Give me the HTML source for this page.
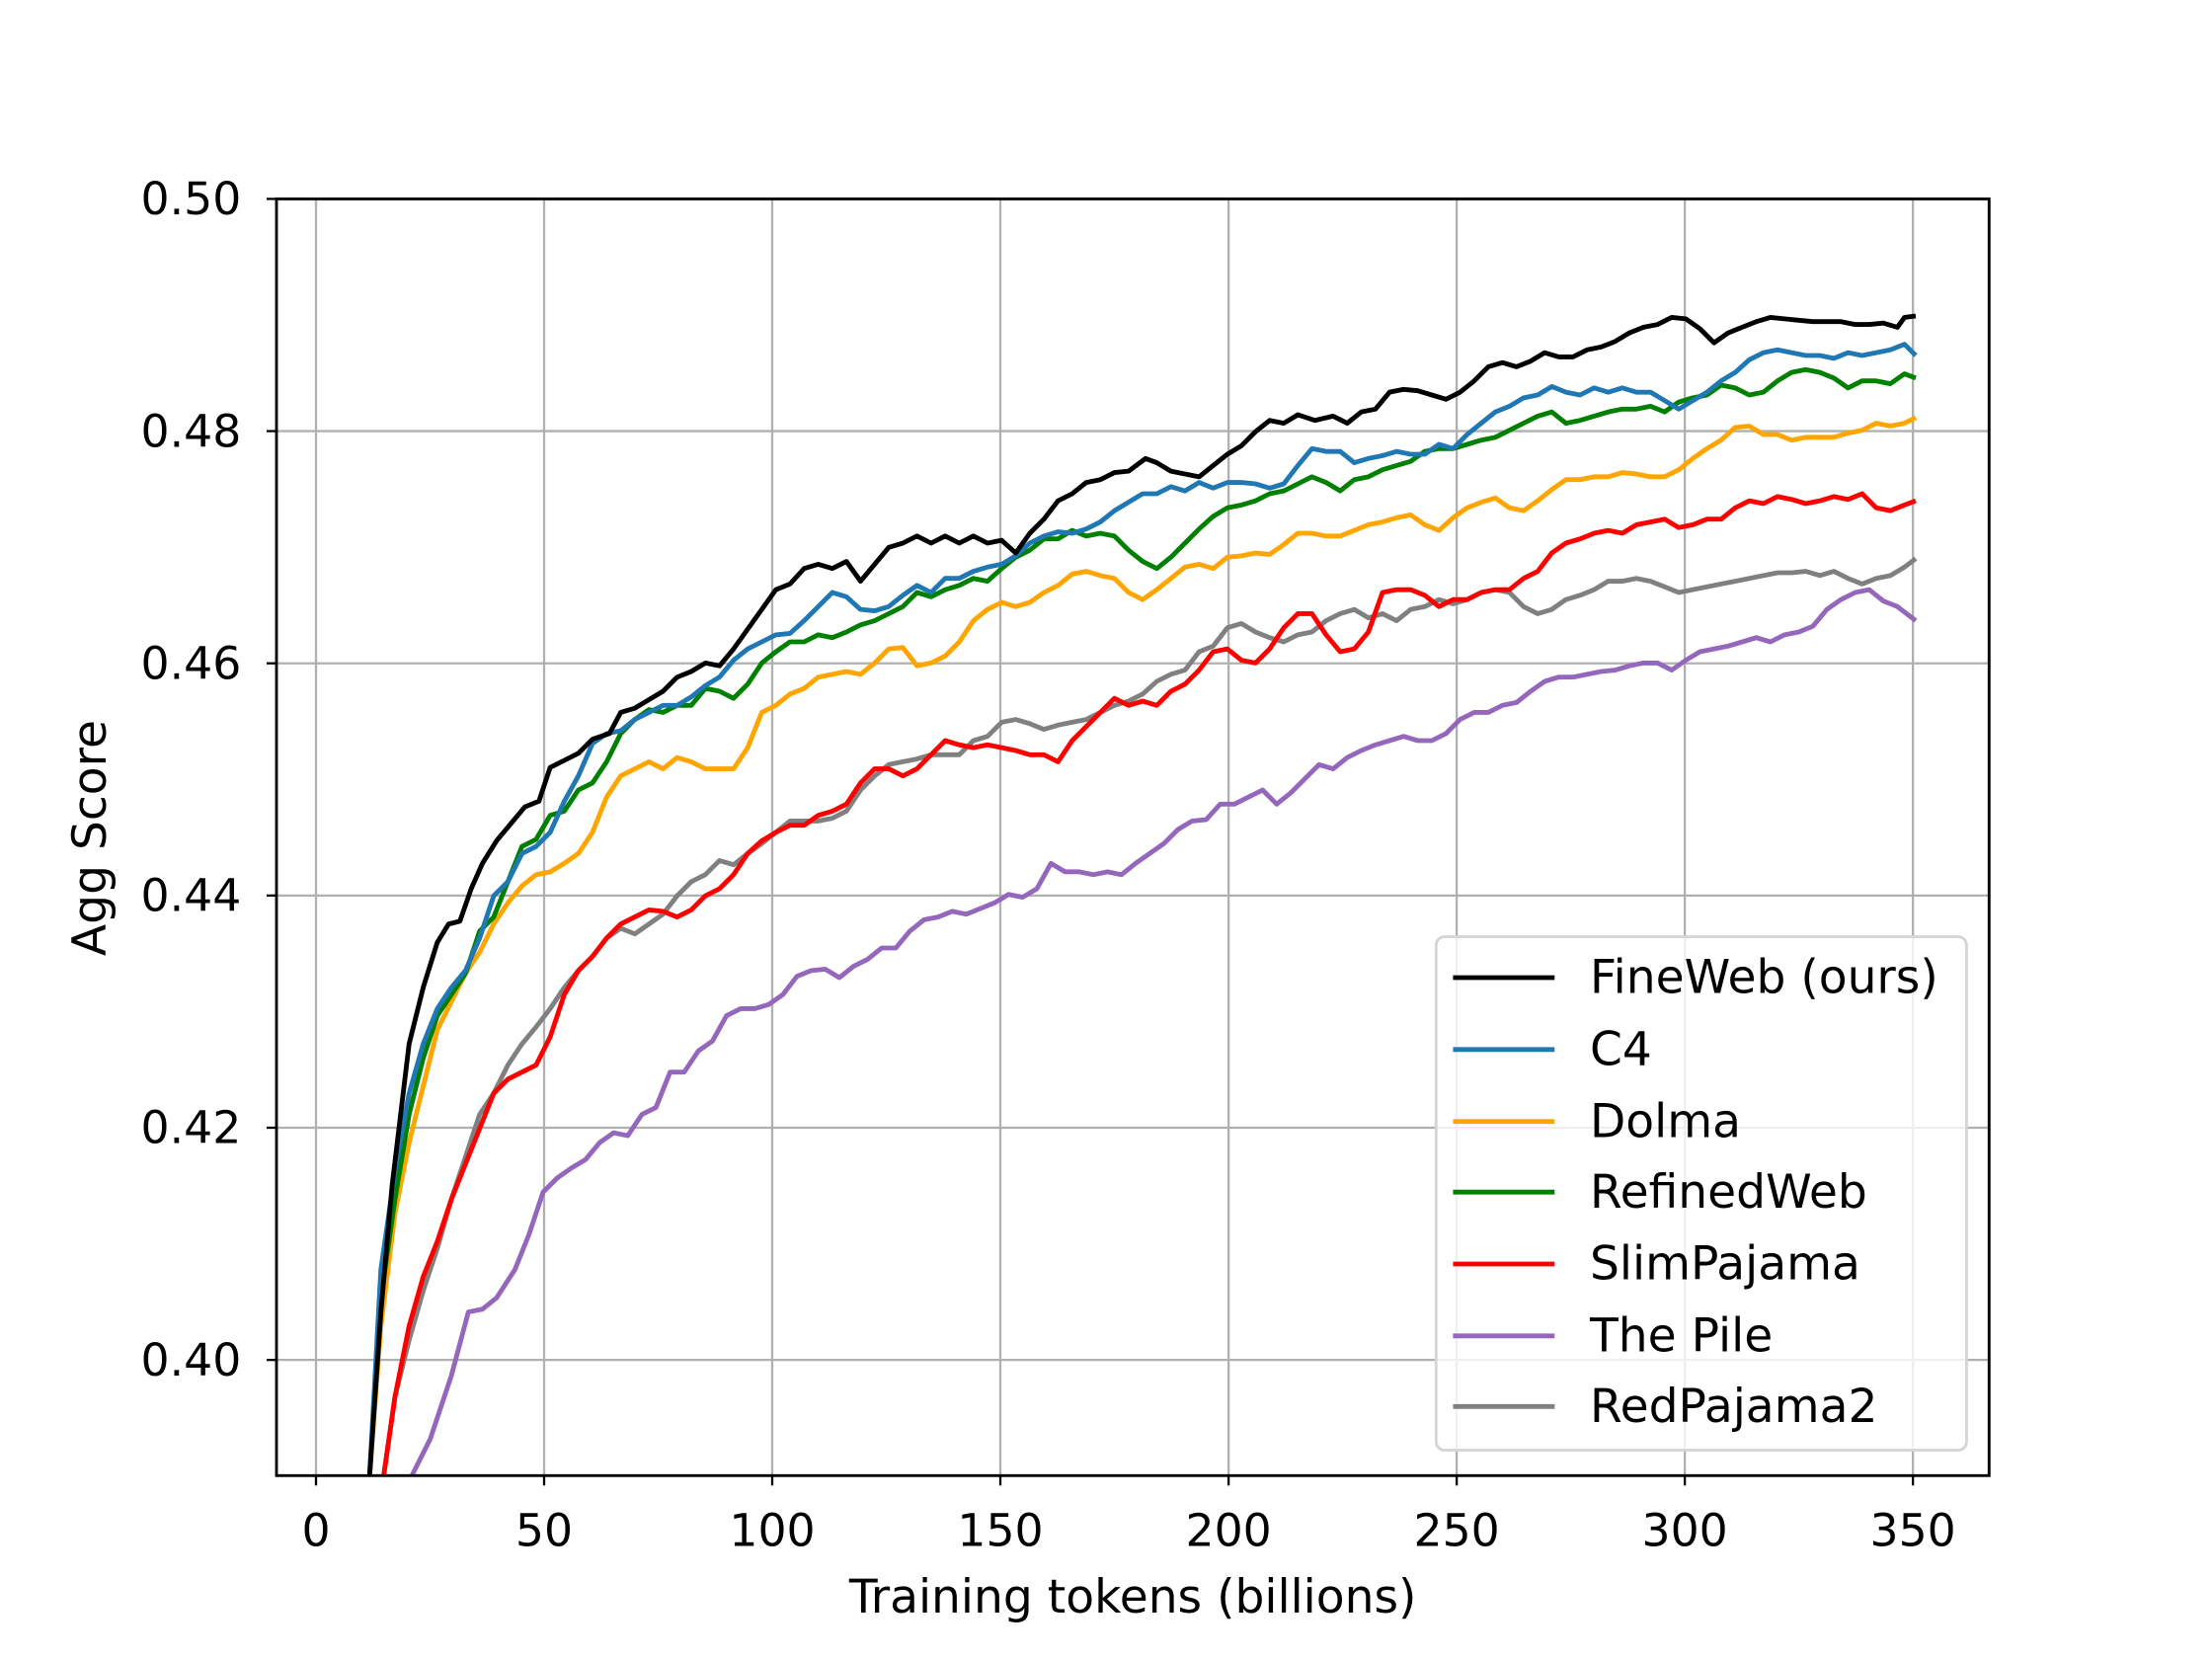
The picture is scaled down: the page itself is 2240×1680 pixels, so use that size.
<!DOCTYPE html>
<html><head><style>html,body{margin:0;padding:0;background:#fff}svg{display:block}</style></head><body>
<svg width="2240" height="1680" viewBox="0 0 1568 1176" xmlns="http://www.w3.org/2000/svg" font-family="DejaVu Sans, Liberation Sans, sans-serif">
<rect width="1568" height="1176" fill="#fff"/>
<defs><clipPath id="c"><rect x="196" y="141" width="1214" height="905"/></clipPath></defs>
<g stroke="#b0b0b0" stroke-width="1.6">
<line x1="224" y1="141" x2="224" y2="1046"/><line x1="385.7" y1="141" x2="385.7" y2="1046"/><line x1="547.4" y1="141" x2="547.4" y2="1046"/><line x1="709.1" y1="141" x2="709.1" y2="1046"/><line x1="870.9" y1="141" x2="870.9" y2="1046"/><line x1="1032.6" y1="141" x2="1032.6" y2="1046"/><line x1="1194.3" y1="141" x2="1194.3" y2="1046"/><line x1="1356" y1="141" x2="1356" y2="1046"/>
<line x1="196" y1="141" x2="1410" y2="141"/><line x1="196" y1="305.6" x2="1410" y2="305.6"/><line x1="196" y1="470.2" x2="1410" y2="470.2"/><line x1="196" y1="634.8" x2="1410" y2="634.8"/><line x1="196" y1="799.4" x2="1410" y2="799.4"/><line x1="196" y1="964" x2="1410" y2="964"/>
</g>
<g clip-path="url(#c)" fill="none" stroke-width="3.4" stroke-linejoin="round">
<polyline stroke="#9467bd" points="292,1046 305,1020 320,975 332,930 342,928 352,920 365,900 375,875 385,845 395,835 405,828 415,822 425,810 435,803 445,805 455,790 465,785 475,760 485,760 495,745 505,738 515,720 525,715 535,715 545,712 555,705 565,692 575,688 585,687 595,693 605,685 615,680 625,672 635,672 645,660 655,652 665,650 675,646 685,648 695,644 705,640 715,634 725,636 735,630 745,612 755,618 765,618 775,620 785,618 795,620 805,612 815,605 825,598 835,588 845,582 855,581 865,570 875,570 885,565 895,560 905,570 915,562 925,552 935,542 945,545 955,537 965,532 975,528 985,525 995,522 1005,525 1015,525 1025,520 1035,510 1045,505 1055,505 1065,500 1075,498 1085,490 1095,483 1105,480 1115,480 1125,478 1135,476 1145,475 1155,472 1165,470 1175,470 1185,475 1195,468 1205,462 1215,460 1225,458 1235,455 1245,452 1255,455 1265,450 1275,448 1285,444 1295,432 1305,425 1315,420 1325,418 1335,426 1345,430 1358,440"/>
<polyline stroke="#808080" points="272,1046 280,990 290,950 300,915 310,885 320,850 330,820 340,790 350,775 360,755 370,740 380,728 390,715 400,700 410,688 420,678 430,665 440,658 450,662 460,655 470,648 480,635 490,625 500,620 510,610 520,613 530,605 540,598 550,590 560,582 570,582 580,582 590,580 600,575 610,560 620,550 630,542 640,540 650,538 660,535 670,535 680,535 690,525 700,522 710,512 720,510 730,513 740,517 750,514 760,512 770,510 780,505 790,500 800,497 810,492 820,483 830,478 840,475 850,462 860,458 870,445 880,442 890,448 900,452 910,455 920,450 930,448 940,440 950,435 960,432 970,438 980,435 990,440 1000,432 1010,430 1020,425 1030,428 1040,425 1050,420 1060,418 1070,420 1080,430 1090,435 1100,432 1110,425 1120,422 1130,418 1140,412 1150,412 1160,410 1170,412 1180,416 1190,420 1200,418 1210,416 1220,414 1230,412 1240,410 1250,408 1260,406 1270,406 1280,405 1290,408 1300,405 1310,410 1320,414 1330,410 1340,408 1350,402 1358,396"/>
<polyline stroke="#ff0000" points="272,1046 280,990 290,940 300,905 310,880 320,850 330,825 340,800 350,775 360,765 370,760 380,755 390,735 400,705 410,688 420,678 430,665 440,655 450,650 460,645 470,646 480,650 490,645 500,635 510,630 520,620 530,605 540,596 550,590 560,585 570,585 580,578 590,575 600,570 610,555 620,545 630,545 640,550 650,545 660,535 670,525 680,528 690,530 700,528 710,530 720,532 730,535 740,535 750,540 760,525 770,515 780,505 790,495 800,500 810,497 820,500 830,490 840,485 850,475 860,462 870,460 880,468 890,470 900,460 910,445 920,435 930,435 940,450 950,462 960,460 970,448 980,420 990,418 1000,418 1010,422 1020,430 1030,425 1040,425 1050,420 1060,418 1070,418 1080,410 1090,405 1100,392 1110,385 1120,382 1130,378 1140,376 1150,378 1160,372 1170,370 1180,368 1190,374 1200,372 1210,368 1220,368 1230,360 1240,355 1250,357 1260,352 1270,354 1280,357 1290,355 1300,352 1310,354 1320,350 1330,360 1340,362 1350,358 1358,355"/>
<polyline stroke="#ffa500" points="262,1046 270,940 280,860 290,810 300,770 310,730 320,710 330,690 340,675 350,655 360,640 370,628 380,620 390,618 400,612 410,605 420,590 430,565 440,550 450,545 460,540 470,545 480,537 490,540 500,545 510,545 520,545 530,530 540,505 550,500 560,492 570,488 580,480 590,478 600,476 610,478 620,470 630,460 640,459 650,472 660,470 670,465 680,455 690,440 700,432 710,427 720,430 730,427 740,420 750,415 760,407 770,405 780,408 790,410 800,420 810,425 820,418 830,410 840,402 850,400 860,403 870,395 880,394 890,392 900,393 910,386 920,378 930,378 940,380 950,380 960,376 970,372 980,370 990,367 1000,365 1010,372 1020,376 1030,367 1040,360 1050,356 1060,353 1070,360 1080,362 1090,355 1100,347 1110,340 1120,340 1130,338 1140,338 1150,335 1160,336 1170,338 1180,338 1190,333 1200,325 1210,318 1220,312 1230,303 1240,302 1250,308 1260,308 1270,312 1280,310 1290,310 1300,310 1310,307 1320,305 1330,300 1340,302 1350,300 1358,296"/>
<polyline stroke="#008000" points="262,1046 270,920 280,850 290,790 300,750 310,720 320,705 330,690 340,660 350,650 360,625 370,600 380,595 390,578 400,575 410,560 420,555 430,540 440,520 450,510 460,503 470,505 480,500 490,500 500,488 510,490 520,495 530,485 540,470 550,462 560,455 570,455 580,450 590,452 600,448 610,443 620,440 630,435 640,430 650,420 660,423 670,418 680,415 690,410 700,412 710,403 720,395 730,390 740,382 750,382 760,376 770,380 780,378 790,380 800,390 810,398 820,403 830,395 840,385 850,375 860,366 870,360 880,358 890,355 900,350 910,348 920,343 930,338 940,342 950,348 960,340 970,338 980,333 990,330 1000,327 1010,320 1020,318 1030,318 1040,315 1050,312 1060,310 1070,305 1080,300 1090,295 1100,292 1110,300 1120,298 1130,295 1140,292 1150,290 1160,290 1170,288 1180,292 1190,285 1200,282 1210,280 1220,273 1230,275 1240,280 1250,278 1260,270 1270,264 1280,262 1290,264 1300,268 1310,275 1320,270 1330,270 1340,272 1350,265 1358,268"/>
<polyline stroke="#1f77b4" points="262,1046 270,900 280,830 290,775 300,740 310,715 320,700 330,688 340,665 350,635 360,625 370,605 380,600 390,590 400,568 410,550 420,527 430,520 440,518 450,510 460,505 470,500 480,500 490,494 500,486 510,480 520,468 530,460 540,455 550,450 560,449 570,440 580,430 590,420 600,423 610,432 620,433 630,430 640,422 650,415 660,420 670,410 680,410 690,405 700,402 710,400 720,394 730,385 740,380 750,377 760,378 770,375 780,370 790,362 800,356 810,350 820,350 830,345 840,348 850,342 860,346 870,342 880,342 890,343 900,346 910,343 920,330 930,318 940,320 950,320 960,328 970,325 980,323 990,320 1000,322 1010,322 1020,315 1030,318 1040,308 1050,300 1060,292 1070,288 1080,282 1090,280 1100,274 1110,278 1120,280 1130,275 1140,278 1150,275 1160,278 1170,278 1180,284 1190,290 1200,284 1210,278 1220,270 1230,264 1240,255 1250,250 1260,248 1270,250 1280,252 1290,252 1300,254 1310,250 1320,252 1330,250 1340,248 1350,244 1358,252"/>
<polyline stroke="#000" points="262,1046 270,930 278,840 290,740 300,700 310,668 318,655 326,653 334,630 342,612 352,596 362,584 372,572 382,568 390,544 400,539 410,534 420,524 432,520 440,505 450,502 460,496 470,490 480,480 490,476 500,470 510,472 520,460 530,446 540,432 550,418 560,414 570,403 580,400 590,403 600,398 610,412 620,400 630,388 640,385 650,380 660,385 670,380 680,385 690,380 700,385 710,383 720,392 730,378 740,368 750,355 760,350 770,342 780,340 790,335 800,334 812,325 820,328 830,334 850,338 860,330 870,322 880,316 890,306 900,298 910,300 920,294 932,298 945,295 955,300 965,292 975,290 985,278 995,276 1005,277 1015,280 1025,283 1035,278 1045,270 1055,260 1065,257 1075,260 1085,256 1095,250 1105,253 1115,253 1125,248 1135,246 1145,242 1155,236 1165,232 1175,230 1185,225 1195,226 1205,233 1215,243 1225,236 1235,232 1245,228 1255,225 1265,226 1275,227 1285,228 1295,228 1305,228 1315,230 1325,230 1335,229 1345,232 1350,225 1358,224"/>
</g>
<rect x="196" y="141" width="1214" height="905" fill="none" stroke="#000" stroke-width="2"/>
<g stroke="#000" stroke-width="1.6">
<line x1="224" y1="1046" x2="224" y2="1053"/><line x1="385.7" y1="1046" x2="385.7" y2="1053"/><line x1="547.4" y1="1046" x2="547.4" y2="1053"/><line x1="709.1" y1="1046" x2="709.1" y2="1053"/><line x1="870.9" y1="1046" x2="870.9" y2="1053"/><line x1="1032.6" y1="1046" x2="1032.6" y2="1053"/><line x1="1194.3" y1="1046" x2="1194.3" y2="1053"/><line x1="1356" y1="1046" x2="1356" y2="1053"/>
<line x1="189" y1="141" x2="196" y2="141"/><line x1="189" y1="305.6" x2="196" y2="305.6"/><line x1="189" y1="470.2" x2="196" y2="470.2"/><line x1="189" y1="634.8" x2="196" y2="634.8"/><line x1="189" y1="799.4" x2="196" y2="799.4"/><line x1="189" y1="964" x2="196" y2="964"/>
</g>
<g font-size="32" fill="#000" text-anchor="middle">
<text x="224" y="1096">0</text><text x="385.7" y="1096">50</text><text x="547.4" y="1096">100</text><text x="709.1" y="1096">150</text><text x="870.9" y="1096">200</text><text x="1032.6" y="1096">250</text><text x="1194.3" y="1096">300</text><text x="1356" y="1096">350</text>
<text x="803" y="1143" font-size="33">Training tokens (billions)</text>
<text transform="translate(75,594) rotate(-90)" font-size="33">Agg Score</text>
</g>
<g font-size="32" fill="#000" text-anchor="end">
<text x="171" y="152">0.50</text><text x="171" y="316.6">0.48</text><text x="171" y="481.2">0.46</text><text x="171" y="645.8">0.44</text><text x="171" y="810.4">0.42</text><text x="171" y="975">0.40</text>
</g>
<rect x="1018" y="664" width="376" height="364" rx="6" fill="#fff" fill-opacity="0.8" stroke="#d5d5d5" stroke-width="2"/>
<g stroke-width="3.4">
<line x1="1030" y1="693" x2="1102" y2="693" stroke="#000"/>
<line x1="1030" y1="744" x2="1102" y2="744" stroke="#1f77b4"/>
<line x1="1030" y1="795" x2="1102" y2="795" stroke="#ffa500"/>
<line x1="1030" y1="845" x2="1102" y2="845" stroke="#008000"/>
<line x1="1030" y1="896" x2="1102" y2="896" stroke="#ff0000"/>
<line x1="1030" y1="947" x2="1102" y2="947" stroke="#9467bd"/>
<line x1="1030" y1="997" x2="1102" y2="997" stroke="#808080"/>
</g>
<g font-size="33" fill="#000">
<text x="1127" y="704">FineWeb (ours)</text><text x="1127" y="755">C4</text><text x="1127" y="806">Dolma</text><text x="1127" y="856">RefinedWeb</text><text x="1127" y="907">SlimPajama</text><text x="1127" y="958">The Pile</text><text x="1127" y="1008">RedPajama2</text>
</g>
</svg>
</body></html>
